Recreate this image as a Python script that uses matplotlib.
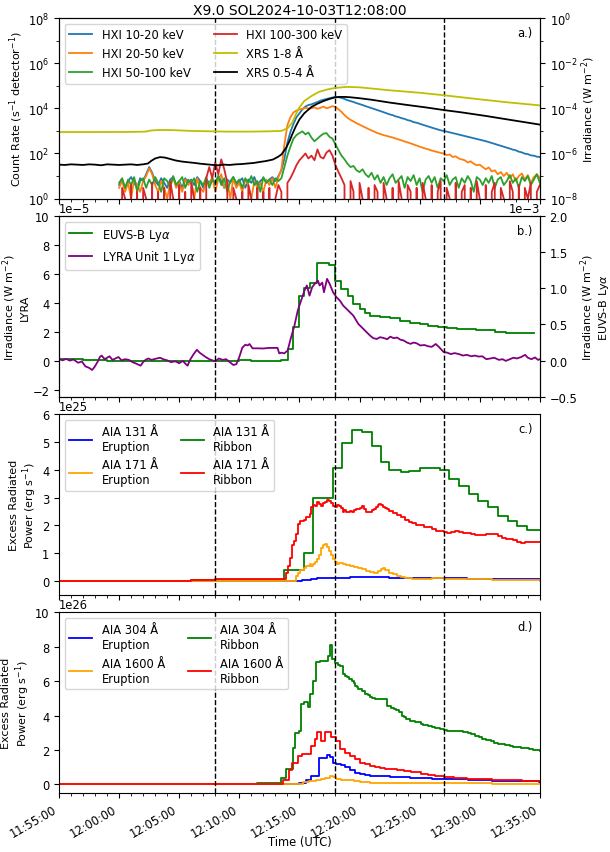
import numpy as np
import matplotlib
matplotlib.use('Agg')
import matplotlib.pyplot as plt
import matplotlib.dates as mdates
import matplotlib.ticker as mticker

# ---------------- data (times in minutes after 11:55:00 UTC) ----------------
event_lines = [13.0, 23.0, 32.0]          # 12:08, 12:18, 12:27

# HXI count rates on a 15-s grid from 12:00:00 to 12:35:00
hxi_t = np.arange(5.0, 40.001, 0.25)
hxi_10_20 = [4, 7, 3, 6, 9, 5, 3, 8, 6, 12,
             25, 14, 6, 4, 8, 5, 3, 7, 9, 4,
             6, 3, 8, 5, 7, 4, 9, 6, 3, 7,
             5, 8, 4, 10, 6, 3, 7, 5, 9, 4,
             6, 8, 3, 7, 5, 9, 4, 6, 8, 5,
             7, 9, 6, 10, 18, 60, 300, 900, 2000, 4000,
             6000, 9000, 12000, 14000, 15000, 17000, 19000, 22000, 24000, 26000,
             28000, 30000, 32000, 31000, 29000, 26000, 23000, 21000, 19000, 17000,
             15500, 14000, 12500, 11300, 10200, 9200, 8300, 7500, 6700, 6000,
             5400, 5000, 4400, 4100, 3650, 3400, 3000, 2800, 2450, 2300,
             2070, 1880, 1700, 1550, 1400, 1280, 1160, 1060, 1000, 930,
             860, 800, 740, 690, 640, 590, 550, 510, 470, 440,
             410, 380, 350, 320, 290, 265, 240, 220, 200, 180,
             165, 148, 138, 120, 112, 98, 94, 82, 80, 72,
             70]
hxi_20_50 = [3, 6, 2, 5, 1, 7, 4, 2, 6, 10,
             22, 12, 4, 2, 6, 3, 1, 5, 8, 3,
             5, 2, 7, 4, 6, 1, 8, 3, 2, 6,
             4, 9, 2, 7, 12, 3, 6, 1, 8, 3,
             5, 2, 7, 4, 1, 6, 3, 5, 2, 7,
             4, 8, 3, 9, 20, 250, 1800, 4000, 6500, 8000,
             9000, 9500, 10500, 9800, 10000, 11000, 9500, 10500, 12000, 10000,
             11000, 12500, 11500, 9000, 7000, 5000, 3800, 3100, 2600, 2200,
             1900, 1650, 1400, 1200, 1050, 920, 800, 720, 650, 600,
             560, 510, 460, 420, 380, 340, 310, 280, 250, 225,
             200, 180, 165, 150, 135, 125, 115, 105, 100, 85,
             90, 70, 75, 60, 55, 50, 40, 45, 35, 30,
             32, 25, 20, 24, 16, 18, 12, 15, 10, 14,
             8, 12, 6, 10, 13, 7, 11, 5, 9, 12,
             8]
hxi_50_100 = [5, 8, 3, 7, 4, 9, 2, 6, 8, 3,
              7, 4, 9, 5, 2, 8, 6, 3, 10, 4,
              6, 9, 3, 7, 5, 8, 2, 6, 4, 9,
              3, 7, 5, 10, 4, 8, 2, 6, 9, 5,
              7, 3, 8, 5, 10, 4, 6, 2, 9, 5,
              7, 4, 8, 6, 8, 25, 80, 200, 450, 650,
              800, 950, 700, 850, 500, 350, 450, 600, 750, 800,
              550, 450, 250, 140, 80, 55, 35, 25, 28, 18,
              15, 20, 12, 9, 14, 7, 11, 5, 9, 4,
              8, 12, 5, 7, 10, 3, 9, 6, 11, 4,
              8, 2, 7, 10, 5, 9, 3, 8, 6, 11,
              4, 7, 9, 3, 8, 5, 10, 6, 2, 9,
              7, 4, 8, 5, 10, 3, 7, 9, 4, 6,
              11, 5, 8, 3, 9, 6, 10, 4, 7, 12,
              5]
hxi_100_300 = [0, 3, 1, 0, 4, 0, 2, 0, 3, 1,
               0, 5, 0, 2, 0, 3, 0, 6, 1, 0,
               4, 0, 2, 0, 5, 1, 0, 3, 0, 8,
               25, 8, 40, 12, 55, 20, 5, 0, 3, 1,
               0, 2, 0, 4, 1, 0, 3, 0, 2, 0,
               3, 0, 1, 4, 2, 0, 5, 8, 15, 30,
               50, 70, 100, 60, 80, 50, 150, 70, 60, 110,
               140, 80, 30, 15, 8, 4, 0, 6, 2, 0,
               5, 1, 0, 3, 0, 4, 2, 0, 5, 1,
               0, 3, 0, 6, 1, 0, 4, 2, 0, 3,
               0, 5, 1, 0, 4, 0, 2, 6, 0, 3,
               1, 0, 5, 0, 2, 4, 0, 3, 0, 6,
               1, 0, 4, 0, 2, 5, 0, 3, 1, 0,
               6, 2, 0, 4, 0, 3, 1, 5, 0, 2,
               4]

# GOES XRS irradiance (W m^-2)
xrs_long_t = [0, 3, 6, 7.2, 7.7, 8.4, 9.5, 11, 12.5, 14, 16, 17.5, 18.5, 19.0,
              19.4, 19.7, 20.0, 20.4, 21.0, 21.6, 22.3, 22.9, 23.9, 25, 27.5,
              30, 32, 35, 37.5, 40]
xrs_long = [8.9e-6, 8.9e-6, 9.0e-6, 9.3e-6, 1.05e-5, 1.1e-5, 1.08e-5, 1.0e-5,
            9.6e-6, 9.3e-6, 9.3e-6, 9.6e-6, 1.0e-5, 1.3e-5, 2.3e-5, 5.4e-5,
            1.1e-4, 2.1e-4, 3.5e-4, 5.3e-4, 6.8e-4, 7.9e-4, 8.9e-4, 8.5e-4,
            6.3e-4, 4.9e-4, 3.8e-4, 2.5e-4, 1.8e-4, 1.35e-4]
xrs_short_t = [0, 0.5, 1, 1.5, 2, 2.5, 3, 3.5, 4, 4.5, 5, 5.5, 6, 6.5, 7, 7.4,
               7.7, 8.0, 8.4, 8.8, 9.2, 9.7, 10.2, 10.7, 11.3, 11.8, 12.3, 12.8,
               13.25, 13.7, 14.2, 14.7, 15.2, 15.7, 16.2, 16.7, 17.2, 17.8, 18.2,
               18.5, 18.9, 19.2, 19.4, 19.7, 20.0, 20.4, 21.0, 21.5, 22.0, 22.5,
               22.9, 23.3, 23.8, 24.2, 25, 26, 27.5, 29, 30.5, 32, 33.5, 35.5,
               37.5, 40]
xrs_short = [3.2e-7, 3.1e-7, 3.3e-7, 3.2e-7, 3.1e-7, 3.3e-7, 3.2e-7, 3.0e-7,
             3.3e-7, 3.2e-7, 3.1e-7, 3.2e-7, 3.3e-7, 3.1e-7, 3.3e-7, 3.6e-7,
             4.8e-7, 6.0e-7, 6.9e-7, 6.6e-7, 5.8e-7, 4.9e-7, 4.4e-7, 4.1e-7,
             3.8e-7, 3.5e-7, 3.3e-7, 3.1e-7, 3.0e-7, 3.2e-7, 3.1e-7, 3.3e-7,
             3.4e-7, 3.6e-7, 3.8e-7, 4.2e-7, 4.6e-7, 5.4e-7, 7.0e-7, 9.0e-7,
             1.8e-6, 3.8e-6, 7.0e-6, 1.6e-5, 3.2e-5, 6.0e-5, 1.15e-4, 1.6e-4,
             2.1e-4, 2.6e-4, 3.0e-4, 3.2e-4, 3.2e-4, 3.1e-4, 2.8e-4, 2.4e-4,
             1.8e-4, 1.4e-4, 1.1e-4, 8.4e-5, 6.6e-5, 4.6e-5, 3.1e-5, 1.9e-5]

# Lyman-alpha (LYRA in 1e-5 W m^-2, EUVS-B in 1e-3 W m^-2)
lyra_t = [0.0, 0.3, 0.6, 0.9, 1.2, 1.6, 1.9, 2.2, 2.5, 2.75, 2.95, 3.2, 3.4,
          3.55, 3.8, 4.0, 4.2, 4.45, 4.7, 4.95, 5.2, 5.5, 5.82, 6.1, 6.4, 6.79,
          7.0, 7.2, 7.43, 7.7, 8.0, 8.4, 8.72, 9.0, 9.3, 9.69, 10.0, 10.3, 10.5,
          10.7, 10.9, 11.2, 11.47, 11.7, 11.95, 12.2, 12.5, 12.75, 13.0, 13.3,
          13.6, 13.9, 14.2, 14.5, 14.75, 15.0, 15.25, 15.5, 15.7, 15.85, 16.1,
          16.5, 17.0, 17.48, 18.18, 18.32, 18.5, 18.74, 19.02, 19.3, 19.58,
          19.86, 20.14, 20.42, 20.62, 20.84, 21.06, 21.26, 21.54, 21.68, 21.9,
          22.04, 22.3, 22.52, 22.8, 23.08, 23.36, 23.64, 24.06, 24.48, 24.9,
          25.32, 25.6, 25.88, 26.15, 26.45, 26.7, 27.0, 27.3, 27.56, 27.85,
          28.12, 28.4, 28.68, 28.95, 29.24, 29.5, 29.75, 30.05, 30.4, 30.69,
          31.0, 31.34, 31.6, 31.99, 32.3, 32.6, 32.9, 33.28, 33.6, 33.93, 34.3,
          34.6, 34.9, 35.22, 35.54, 35.9, 36.2, 36.6, 36.9, 37.16, 37.5, 37.8,
          38.1, 38.45, 38.77, 39.0, 39.3, 39.6, 39.85, 40.0]
lyra = [0.10, 0.02, 0.12, 0.00, 0.08, -0.15, -0.05, -0.40, -0.50, -0.65, -0.45,
        -0.10, 0.25, 0.35, 0.10, 0.20, 0.30, 0.05, 0.15, 0.25, 0.02, 0.10, 0.05,
        -0.10, -0.20, -0.35, -0.10, 0.05, 0.15, 0.05, 0.12, 0.20, 0.08, 0.02,
        -0.10, -0.05, -0.18, -0.02, -0.20, -0.35, 0.05, 0.45, 0.75, 0.55, 0.40,
        0.25, 0.10, 0.02, -0.05, 0.15, 0.05, 0.10, -0.10, -0.30, -0.25, 0.25,
        0.90, 1.10, 1.05, 1.15, 0.85, 0.85, 0.84, 0.88, 0.88, 0.50, 0.55, 0.50,
        0.70, 1.60, 2.40, 3.46, 4.16, 4.85, 5.20, 4.50, 5.08, 5.30, 5.54, 5.20,
        5.40, 4.73, 5.66, 5.30, 4.73, 4.39, 4.16, 3.81, 3.46, 3.12, 2.54, 2.19,
        1.95, 1.73, 1.55, 1.50, 1.62, 1.57, 1.48, 1.66, 1.55, 1.60, 1.45, 1.39,
        1.25, 1.16, 1.25, 1.20, 1.05, 1.08, 1.00, 0.95, 1.15, 0.95, 0.60, 0.55,
        0.45, 0.52, 0.45, 0.35, 0.40, 0.30, 0.35, 0.28, 0.30, 0.10, 0.15, 0.20,
        0.05, 0.10, -0.02, 0.10, 0.20, 0.15, 0.25, 0.40, 0.20, 0.10, 0.22, 0.05,
        0.10]
euvs_t = [0, 1, 2, 3, 4, 5, 6, 7, 8, 9, 10, 11, 12, 13, 14, 15, 16, 17, 18,
          18.5, 19.02, 19.44, 20.0, 20.42, 20.9, 21.48, 22.46, 23.0, 23.5,
          24.06, 24.48, 25.04, 25.46, 25.88, 26.72, 27.56, 28.4, 29.24, 30.05,
          30.69, 31.5, 32.3, 33.1, 33.93, 34.7, 35.54, 36.3, 37.16, 38.0, 38.8,
          39.5]
euvs = [0.02, 0.02, 0.01, 0.01, 0.0, -0.01, -0.01, -0.01, 0.0, -0.01, -0.01,
        -0.01, -0.01, -0.01, 0.0, 0.01, -0.01, -0.01, 0.0, 0.01, 0.16, 0.46,
        0.90, 1.01, 1.08, 1.35, 1.32, 1.10, 0.99, 0.90, 0.79, 0.72, 0.66, 0.62,
        0.60, 0.59, 0.55, 0.52, 0.50, 0.485, 0.46, 0.45, 0.44, 0.44, 0.43, 0.42,
        0.40, 0.38, 0.38, 0.38, 0.38]

# AIA excess radiated power, panel c in 1e25 erg/s: (minute, value)
aia131_erupt = [(0, 0), (19.71, 0), (20.2, 0.02), (20.5, 0.05), (21.0, 0.07),
                (21.5, 0.09), (21.97, 0.1), (22.6, 0.11), (23.2, 0.12),
                (24.23, 0.13), (25.2, 0.14), (26.2, 0.13), (27.46, 0.12),
                (29, 0.11), (30.69, 0.1), (32.3, 0.09), (33.93, 0.08),
                (36, 0.07), (38, 0.065), (40, 0.06)]
aia131_ribbon = [(0, 0.0), (11.0, 0.02), (13.0, 0.03), (15.5, 0.04), (17.0, 0.05),
                 (18.68, 0.38), (20.36, 0.99), (21.16, 2.99), (22.78, 4.07),
                 (23.52, 4.98), (24.39, 5.42), (25.2, 5.35), (26.01, 4.84),
                 (26.82, 4.28), (27.46, 4.0), (28.43, 3.92), (29.08, 3.97),
                 (30.05, 4.07), (31.66, 3.98), (32.47, 3.67), (33.28, 3.40),
                 (34.09, 3.13), (34.89, 2.89), (35.7, 2.65), (36.51, 2.35),
                 (37.32, 2.17), (38.13, 1.99), (38.93, 1.83), (40, 1.83)]
aia171_erupt = [(0, 0), (19.55, 0.0), (19.71, 0.18), (19.87, 0.3), (20.03, 0.38),
                (20.36, 0.48), (20.52, 0.55), (20.84, 0.6), (21.0, 0.55),
                (21.16, 0.6), (21.32, 0.68), (21.49, 0.78), (21.65, 0.95),
                (21.81, 1.2), (21.97, 1.28), (22.13, 1.33), (22.29, 1.22),
                (22.46, 1.08), (22.62, 0.92), (22.78, 0.78), (22.94, 0.7),
                (23.1, 0.6), (23.26, 0.65), (23.59, 0.62), (23.91, 0.58),
                (24.23, 0.54), (24.56, 0.5), (24.88, 0.46), (25.2, 0.42),
                (25.52, 0.36), (25.85, 0.32), (26.17, 0.3), (26.5, 0.35),
                (26.82, 0.42), (26.98, 0.46), (27.14, 0.4), (27.46, 0.3),
                (27.79, 0.24), (28.11, 0.18), (28.43, 0.14), (28.76, 0.11),
                (29.4, 0.08), (30.05, 0.08), (31.0, 0.09), (31.99, 0.08),
                (33.0, 0.07), (34.5, 0.06), (36.0, 0.05), (37.16, 0.04),
                (38.5, 0.02), (40, 0.0)]
aia171_ribbon = [(0, 0.0), (5, 0.0), (9, 0.01), (11.0, 0.03), (12.0, 0.05),
                 (13.0, 0.06), (14.5, 0.08), (16.0, 0.08), (17.77, 0.07),
                 (18.42, 0.06), (18.9, 0.3), (19.06, 0.55), (19.22, 0.84),
                 (19.39, 1.3), (19.55, 1.45), (19.71, 1.7), (19.87, 2.05),
                 (20.03, 2.15), (20.36, 2.2), (20.52, 2.3), (20.84, 2.4),
                 (21.0, 2.65), (21.16, 2.75), (21.32, 2.7), (21.49, 2.85),
                 (21.65, 2.77), (21.81, 2.7), (21.97, 2.8), (22.13, 2.83),
                 (22.29, 2.9), (22.46, 2.89), (22.62, 2.8), (22.78, 2.7),
                 (22.94, 2.65), (23.1, 2.72), (23.26, 2.7), (23.42, 2.62),
                 (23.59, 2.5), (23.75, 2.55), (23.91, 2.48), (24.07, 2.47),
                 (24.23, 2.52), (24.39, 2.5), (24.56, 2.55), (24.72, 2.6),
                 (24.88, 2.58), (25.04, 2.62), (25.2, 2.7), (25.36, 2.6),
                 (25.52, 2.5), (25.69, 2.47), (25.85, 2.5), (26.01, 2.55),
                 (26.17, 2.6), (26.33, 2.68), (26.5, 2.72), (26.66, 2.77),
                 (26.82, 2.72), (26.98, 2.68), (27.14, 2.62), (27.3, 2.58),
                 (27.46, 2.52), (27.79, 2.45), (28.11, 2.38), (28.43, 2.3),
                 (28.76, 2.2), (29.08, 2.12), (29.4, 2.07), (29.73, 2.02),
                 (30.05, 2.0), (30.37, 1.95), (30.69, 1.93), (31.02, 1.86),
                 (31.34, 1.8), (31.66, 1.79), (31.99, 1.78), (32.31, 1.74),
                 (32.63, 1.77), (32.96, 1.8), (33.28, 1.78), (33.6, 1.74),
                 (33.93, 1.71), (34.25, 1.68), (34.57, 1.66), (34.89, 1.67),
                 (35.22, 1.66), (35.54, 1.68), (35.86, 1.7), (36.19, 1.68),
                 (36.51, 1.62), (36.83, 1.55), (37.16, 1.5), (37.48, 1.52),
                 (37.8, 1.46), (38.13, 1.4), (38.45, 1.38), (38.77, 1.39),
                 (39.1, 1.4), (39.42, 1.39), (39.74, 1.4), (40, 1.4)]

# panel d in 1e26 erg/s
aia304_erupt = [(0, 0), (18.9, 0.0), (19.4, 0.03), (20.0, 0.06), (20.56, 0.23),
                (20.98, 0.49), (21.62, 1.52), (22.1, 1.56), (22.3, 1.69),
                (22.52, 1.6), (22.8, 1.26), (23.08, 1.17), (23.5, 1.15),
                (23.78, 1.0), (24.2, 0.82), (24.62, 0.68), (25.04, 0.58),
                (25.46, 0.52), (25.88, 0.49), (26.72, 0.48), (27.56, 0.43),
                (28.5, 0.41), (29.24, 0.39), (30.08, 0.35), (31.0, 0.32),
                (32.0, 0.29), (34.0, 0.24), (36.0, 0.21), (37.16, 0.19),
                (39.9, 0.14), (40, 0.14)]
aia304_ribbon = [(0, 0.0), (8, 0.01), (12, 0.02), (13, 0.03), (15, 0.05),
                 (16.5, 0.07), (17.7, 0.1), (18.46, 0.39), (18.88, 0.88),
                 (19.5, 2.14), (19.66, 3.01), (19.94, 3.1), (20.14, 4.67),
                 (20.42, 4.77), (20.7, 4.47), (20.9, 5.25), (21.12, 6.03),
                 (21.4, 7.1), (21.7, 7.15), (21.9, 7.2), (22.38, 7.49),
                 (22.58, 8.13), (22.75, 7.3), (22.94, 7.04), (23.2, 6.95),
                 (23.36, 6.9), (23.64, 6.42), (23.8, 6.3), (23.98, 6.22),
                 (24.1, 6.15), (24.35, 6.03), (24.5, 5.9), (24.62, 5.74),
                 (24.75, 5.65), (24.9, 5.54), (25.2, 5.4), (25.46, 5.25),
                 (25.7, 5.18), (25.88, 5.1), (26.0, 5.05), (26.3, 4.96),
                 (27.0, 4.95), (27.28, 4.57), (27.6, 4.45), (27.84, 4.38),
                 (28.0, 4.3), (28.26, 4.18), (28.5, 4.0), (28.68, 3.89),
                 (28.9, 3.8), (29.24, 3.7), (29.6, 3.6), (30.08, 3.5),
                 (30.3, 3.45), (30.69, 3.4), (31.0, 3.35), (31.3, 3.28),
                 (31.66, 3.2), (32.0, 3.15), (32.3, 3.12), (32.63, 3.11),
                 (33.0, 3.1), (33.3, 3.08), (33.6, 3.05), (34.0, 3.0),
                 (34.3, 2.9), (34.57, 2.82), (34.9, 2.75), (35.2, 2.65),
                 (35.54, 2.57), (35.9, 2.5), (36.2, 2.43), (36.51, 2.37),
                 (36.8, 2.32), (37.1, 2.28), (37.48, 2.24), (37.8, 2.2),
                 (38.1, 2.17), (38.45, 2.14), (38.8, 2.1), (39.1, 2.04),
                 (39.4, 2.0), (39.7, 1.98), (40, 1.95)]
aia1600_erupt = [(0, 0), (19.2, 0.0), (19.8, 0.05), (20.28, 0.15), (20.8, 0.2),
                 (21.4, 0.27), (21.8, 0.33), (22.1, 0.39), (22.52, 0.47),
                 (22.8, 0.43), (23.08, 0.33), (23.5, 0.28), (23.92, 0.23),
                 (24.5, 0.18), (25.04, 0.14), (25.88, 0.1), (27, 0.09),
                 (30.08, 0.08), (33, 0.06), (36, 0.04), (40, 0.03)]
aia1600_ribbon = [(0, 0), (10, 0.0), (14, 0.02), (17, 0.03), (18.6, 0.23),
                  (19.16, 0.82), (19.38, 1.26), (19.86, 1.65), (20.22, 1.75),
                  (20.98, 2.24), (21.26, 2.63), (21.46, 3.07), (21.82, 2.53),
                  (22.1, 3.07), (22.62, 2.75), (23.03, 2.55), (23.36, 2.04),
                  (23.78, 1.85), (24.2, 1.65), (24.62, 1.46), (25.04, 1.26),
                  (25.46, 1.17), (25.88, 1.07), (26.3, 1.0), (26.72, 0.97),
                  (27.14, 0.92), (27.56, 0.88), (28.1, 0.83), (28.68, 0.78),
                  (29.3, 0.72), (30.08, 0.63), (30.69, 0.56), (31.3, 0.5),
                  (32.0, 0.45), (32.9, 0.39), (33.93, 0.34), (35.0, 0.3),
                  (36.0, 0.27), (37.16, 0.25), (38.5, 0.22), (39.5, 0.2),
                  (40, 0.19)]

# ---------------- helpers ----------------
T0 = np.datetime64('2024-10-03T11:55:00')


def tt(m):
    return T0 + np.round(np.asarray(m, float) * 60000).astype('timedelta64[ms]')


def split(pairs):
    a = np.array(pairs, float)
    return tt(a[:, 0]), a[:, 1]


class FixedOrder(mticker.ScalarFormatter):
    def __init__(self, order):
        super().__init__(useOffset=False)
        self._order = order

    def _set_order_of_magnitude(self):
        self.orderOfMagnitude = self._order


plt.rcParams['font.family'] = ['DejaVu Sans']
plt.rcParams['font.size'] = 8.3
LW = 1.3
YL = dict(fontsize=8.0, labelpad=2, linespacing=1.15)
YR = dict(fontsize=8.0, labelpad=1, linespacing=1.05)

fig, axes = plt.subplots(4, 1, figsize=(6.1, 8.53), dpi=100, sharex=True)
fig.subplots_adjust(left=0.0967, right=0.885, top=0.9777, bottom=0.0692,
                    hspace=0.097)
axa, axb, axc, axd = axes

# ---------------- panel a ----------------
axa.set_yscale('log')
axa.plot(tt(hxi_t), hxi_10_20, color='#1f77b4', lw=LW, label='HXI 10-20 keV')
axa.plot(tt(hxi_t), hxi_20_50, color='#ff7f0e', lw=LW, label='HXI 20-50 keV')
axa.plot(tt(hxi_t), hxi_50_100, color='#2ca02c', lw=LW, label='HXI 50-100 keV')
axa.plot(tt(hxi_t), hxi_100_300, color='#d62728', lw=LW, label='HXI 100-300 keV')
axa.set_ylim(1, 1e8)
axa.set_yticks([1, 1e2, 1e4, 1e6, 1e8])
axa.set_yticks([1e1, 1e3, 1e5, 1e7], minor=True)
axa.yaxis.set_minor_formatter(mticker.NullFormatter())
axa.set_ylabel('Count Rate (s$^{-1}$ detector$^{-1}$)', **YL)
axa2 = axa.twinx()
axa2.set_yscale('log')
axa2.plot(tt(xrs_long_t), xrs_long, color='#bfbf00', lw=LW, label='XRS 1-8 Å')
axa2.plot(tt(xrs_short_t), xrs_short, color='black', lw=LW, label='XRS 0.5-4 Å')
axa2.set_ylim(1e-8, 1)
axa2.set_yticks([1e-8, 1e-6, 1e-4, 1e-2, 1])
axa2.set_yticks([1e-7, 1e-5, 1e-3, 1e-1], minor=True)
axa2.yaxis.set_minor_formatter(mticker.NullFormatter())
axa2.set_ylabel('Irradiance (W m$^{-2}$)', **YR)
h1, l1 = axa.get_legend_handles_labels()
h2, l2 = axa2.get_legend_handles_labels()
axa2.legend(h1 + h2, l1 + l2, ncol=2, loc='upper left')
axa.set_title('X9.0 SOL2024-10-03T12:08:00', fontsize=10, pad=3)

# ---------------- panel b ----------------
axb.plot(tt(lyra_t), np.array(lyra) * 1e-5, color='purple', lw=LW,
         label='LYRA Unit 1 Ly$\\alpha$')
axb.set_ylim(-2.5e-5, 10e-5)
axb.set_yticks(np.arange(-2, 11, 2) * 1e-5)
axb.yaxis.set_major_formatter(FixedOrder(-5))
axb.set_ylabel('Irradiance (W m$^{-2}$)\nLYRA', **YL)
axb2 = axb.twinx()
axb2.plot(tt(euvs_t), np.array(euvs) * 1e-3, color='green', lw=LW,
          drawstyle='steps-post', label='EUVS-B Ly$\\alpha$')
axb2.set_ylim(-0.5e-3, 2.0e-3)
axb2.set_yticks(np.arange(-0.5, 2.01, 0.5) * 1e-3)
axb2.yaxis.set_major_formatter(FixedOrder(-3))
axb2.set_ylabel('Irradiance (W m$^{-2}$)\nEUVS-B Ly$\\alpha$', **YR)
axb2.set_zorder(axb.get_zorder() - 1)
axb.patch.set_visible(False)
hb1, lb1 = axb2.get_legend_handles_labels()
hb2, lb2 = axb.get_legend_handles_labels()
axb.legend(hb1 + hb2, lb1 + lb2, loc='upper left')

# ---------------- panel c ----------------
s25 = 1e25
t, v = split(aia131_erupt)
l131e, = axc.plot(t, v * s25, color='blue', lw=LW, drawstyle='steps-post',
                  label='AIA 131 Å\nEruption')
t, v = split(aia131_ribbon)
l131r, = axc.plot(t, v * s25, color='green', lw=LW, drawstyle='steps-post',
                  label='AIA 131 Å\nRibbon')
t, v = split(aia171_erupt)
l171e, = axc.plot(t, v * s25, color='orange', lw=LW, drawstyle='steps-post',
                  label='AIA 171 Å\nEruption')
t, v = split(aia171_ribbon)
l171r, = axc.plot(t, v * s25, color='red', lw=LW, drawstyle='steps-post',
                  label='AIA 171 Å\nRibbon')
axc.set_ylim(-0.5e25, 6e25)
axc.set_yticks(np.arange(0, 7) * 1e25)
axc.yaxis.set_major_formatter(FixedOrder(25))
axc.set_ylabel('Excess Radiated\nPower (erg s$^{-1}$)', **YL)
axc.legend([l131e, l171e, l131r, l171r],
           [h.get_label() for h in [l131e, l171e, l131r, l171r]],
           ncol=2, loc='upper left')

# ---------------- panel d ----------------
s26 = 1e26
t, v = split(aia304_erupt)
l304e, = axd.plot(t, v * s26, color='blue', lw=LW, drawstyle='steps-post',
                  label='AIA 304 Å\nEruption')
t, v = split(aia304_ribbon)
l304r, = axd.plot(t, v * s26, color='green', lw=LW, drawstyle='steps-post',
                  label='AIA 304 Å\nRibbon')
t, v = split(aia1600_erupt)
l1600e, = axd.plot(t, v * s26, color='orange', lw=LW, drawstyle='steps-post',
                   label='AIA 1600 Å\nEruption')
t, v = split(aia1600_ribbon)
l1600r, = axd.plot(t, v * s26, color='red', lw=LW, drawstyle='steps-post',
                   label='AIA 1600 Å\nRibbon')
axd.set_ylim(-0.5e26, 10e26)
axd.set_yticks(np.arange(0, 11, 2) * 1e26)
axd.yaxis.set_major_formatter(FixedOrder(26))
axd.set_ylabel('Excess Radiated\nPower (erg s$^{-1}$)', **YL)
axd.legend([l304e, l1600e, l304r, l1600r],
           [h.get_label() for h in [l304e, l1600e, l304r, l1600r]],
           ncol=2, loc='upper left')

# ---------------- shared decorations ----------------
for ax, tag in zip(axes, ['a.)', 'b.)', 'c.)', 'd.)']):
    for m in event_lines:
        ax.axvline(tt(m), color='black', ls='--', lw=1.0)
    ax.text(0.985, 0.92, tag, transform=ax.transAxes, ha='right', va='center')

axd.set_xlim(tt(0), tt(40))
axd.xaxis.set_major_locator(mdates.MinuteLocator(byminute=range(0, 60, 5)))
axd.xaxis.set_minor_locator(mdates.MinuteLocator())
axd.xaxis.set_major_formatter(mdates.DateFormatter('%H:%M:%S'))
for lab in axd.get_xticklabels():
    lab.set_rotation(30)
    lab.set_ha('right')
axd.set_xlabel('Time (UTC)')
axd.xaxis.set_label_coords(0.5, -0.235)

fig.savefig('out.png', dpi=100)
